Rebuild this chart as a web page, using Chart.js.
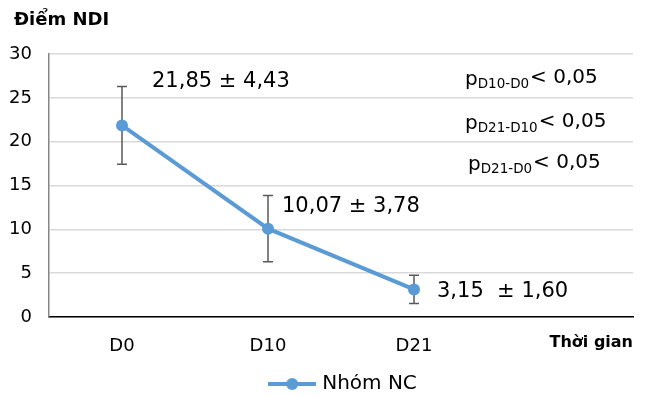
<!DOCTYPE html>
<html>
<head>
<meta charset="utf-8">
<script src="https://cdn.jsdelivr.net/npm/chart.js@4.4.1/dist/chart.umd.min.js"></script>
<style>
  html, body { margin: 0; padding: 0; background: #fff; }
  #wrap { width: 648px; height: 396px; }
</style>
</head>
<body>
<div id="wrap"><canvas id="myChart" width="648" height="396"></canvas></div>
<script>
// du lieu
var categories = ['D0', 'D10', 'D21', ''];
var meanNDI = [21.85, 10.07, 3.15, null];
var sdNDI = [4.43, 3.78, 1.60, null];
var meanLabels = ['21,85 ± 4,43', '10,07 ± 3,78', '3,15  ± 1,60'];
var pSubs = ['D10-D0', 'D21-D10', 'D21-D0'];
var pText = '< 0,05';
var yMin = 0, yMax = 30, yStep = 5;
var seriesName = 'Nhóm NC';
var yTitle = 'Điểm NDI';
var xTitle = 'Thời gian';

var FONT = '"DejaVu Sans", sans-serif';
var BLUE = '#5B9BD5';

// icono de la leyenda: linea + punto
var legendImg = document.createElement('canvas');
legendImg.width = 48; legendImg.height = 14;
(function () {
    var c = legendImg.getContext('2d');
    c.strokeStyle = BLUE; c.lineWidth = 4;
    c.beginPath(); c.moveTo(0, 7); c.lineTo(48, 7); c.stroke();
    c.fillStyle = BLUE;
    c.beginPath(); c.arc(24, 7, 6, 0, Math.PI * 2); c.fill();
})();

// mueve la leyenda (centrada bajo el area del grafico)
var moverLeyenda = {
    id: 'moverLeyenda',
    afterLayout: function (chart) {
        var lg = chart.legend;
        lg.left += 28; lg.right += 28;
        lg.top += 8; lg.bottom += 8;
    }
};

// barras de error
var errorBars = {
    id: 'errorBars',
    beforeDatasetsDraw: function (chart) {
        var ctx = chart.ctx, y = chart.scales.y;
        var meta = chart.getDatasetMeta(0);
        ctx.save();
        ctx.strokeStyle = '#595959';
        ctx.lineWidth = 1.5;
        meta.data.forEach(function (pt, i) {
            if (meanNDI[i] == null) return;
            var top = y.getPixelForValue(meanNDI[i] + sdNDI[i]);
            var bot = y.getPixelForValue(meanNDI[i] - sdNDI[i]);
            ctx.beginPath();
            ctx.moveTo(pt.x, top); ctx.lineTo(pt.x, bot);
            ctx.moveTo(pt.x - 5, top); ctx.lineTo(pt.x + 5, top);
            ctx.moveTo(pt.x - 5, bot); ctx.lineTo(pt.x + 5, bot);
            ctx.stroke();
        });
        ctx.restore();
    }
};

// textos: titulos, medias, valores p
var textos = {
    id: 'textos',
    afterDraw: function (chart) {
        var ctx = chart.ctx, area = chart.chartArea;
        var meta = chart.getDatasetMeta(0);
        ctx.save();
        ctx.fillStyle = '#000';
        ctx.textBaseline = 'middle';

        ctx.font = 'bold 18px ' + FONT;
        ctx.textAlign = 'left';
        ctx.fillText(yTitle, 14, 20);

        ctx.font = 'bold 16px ' + FONT;
        ctx.textAlign = 'right';
        ctx.fillText(xTitle, area.right, 343);

        // etiquetas de media +- DE
        var offs = [[30, -44], [14, -22], [23, 2]];
        ctx.font = '21px ' + FONT;
        ctx.textAlign = 'left';
        meta.data.forEach(function (pt, i) {
            if (!meanLabels[i]) return;
            ctx.fillText(meanLabels[i], pt.x + offs[i][0], pt.y + offs[i][1]);
        });

        // valores p
        var rows = [[465, 78], [465, 122], [468, 163]];
        pSubs.forEach(function (sub, i) {
            var x = rows[i][0], yy = rows[i][1];
            ctx.font = '20px ' + FONT;
            ctx.fillText('p', x, yy + 2);
            x += ctx.measureText('p').width;
            ctx.font = '13.5px ' + FONT;
            ctx.fillText(sub, x, yy + 6);
            x += ctx.measureText(sub).width + 1;
            ctx.font = '20px ' + FONT;
            ctx.fillText(pText, x, yy);
        });
        ctx.restore();
    }
};

var ctx = document.getElementById('myChart').getContext('2d');
var myChart = new Chart(ctx, {
    type: 'line',
    data: {
        labels: categories,
        datasets: [{
            label: seriesName,
            data: meanNDI,
            borderColor: BLUE,
            backgroundColor: BLUE,
            borderWidth: 4,
            pointRadius: 6,
            pointHoverRadius: 6,
            pointBackgroundColor: BLUE,
            pointBorderWidth: 0,
            tension: 0
        }]
    },
    options: {
        responsive: false,
        animation: false,
        events: [],
        layout: { padding: { left: 0, right: 15, top: 54, bottom: 0 } },
        plugins: {
            title: { display: false },
            tooltip: { enabled: false },
            legend: {
                position: 'bottom',
                labels: {
                    color: '#000',
                    font: { family: FONT, size: 20 },
                    padding: 0,
                    usePointStyle: true,
                    pointStyleWidth: 40,
                    generateLabels: function (chart) {
                        return [{
                            text: seriesName,
                            pointStyle: legendImg,
                            fillStyle: BLUE,
                            strokeStyle: BLUE,
                            lineWidth: 0,
                            datasetIndex: 0,
                            hidden: false
                        }];
                    }
                }
            }
        },
        scales: {
            x: {
                offset: true,
                grid: { display: false, drawTicks: false },
                border: { display: true, color: '#000', width: 1.5 },
                ticks: { color: '#000', font: { family: FONT, size: 18 }, padding: 19, maxRotation: 0 },
                afterFit: function (s) { s.height = 49; }
            },
            y: {
                min: yMin,
                max: yMax,
                ticks: { stepSize: yStep, color: '#000', font: { family: FONT, size: 18 }, padding: 17 },
                grid: { color: '#d9d9d9', lineWidth: 1.5, drawTicks: false },
                border: { display: true, color: '#868686', width: 1.5 },
                afterFit: function (s) { s.width = 49; }
            }
        }
    },
    plugins: [moverLeyenda, errorBars, textos]
});
</script>
</body>
</html>
